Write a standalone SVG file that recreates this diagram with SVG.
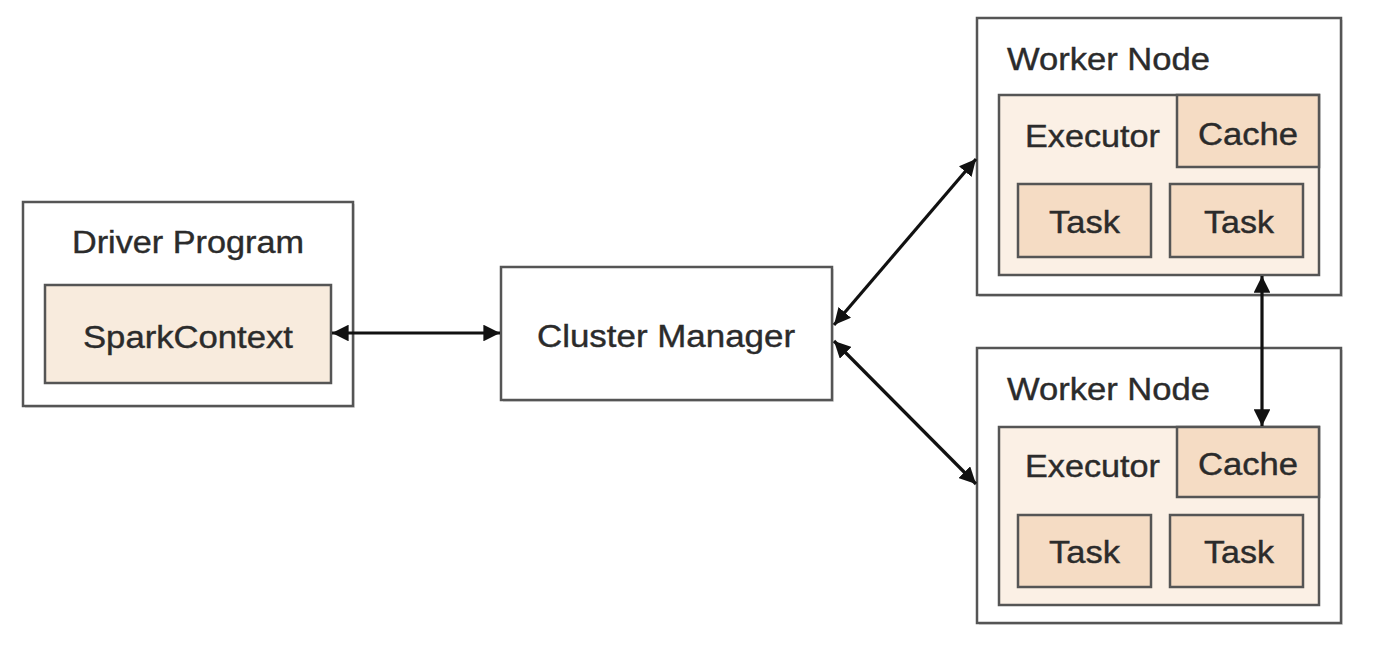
<svg xmlns="http://www.w3.org/2000/svg" width="1374" height="658" viewBox="0 0 1374 658">
<defs>
<style>
.outer{fill:#ffffff;stroke:#555555;stroke-width:2.5}
.shadow{fill:#000000;opacity:0.12}
.ctx{fill:#f8ebdd;stroke:#555555;stroke-width:2.5}
.exec{fill:#fbf0e5;stroke:#555555;stroke-width:2.5}
.part{fill:#f5dcc4;stroke:#555555;stroke-width:2.5}
.lbl{font-family:"Liberation Sans",Arial,Helvetica,sans-serif;font-size:31px;fill:#2b2b2b;stroke:#2b2b2b;stroke-width:0.4}
.conn{stroke:#111111;stroke-width:3.2;fill:none}
</style>
<marker id="ah" viewBox="0 0 10 10" refX="10" refY="5" markerWidth="5.2" markerHeight="5.2" orient="auto-start-reverse" markerUnits="strokeWidth">
<path d="M0,0 L10,5 L0,10 z" fill="#111111"/>
</marker>
</defs>
<rect width="1374" height="658" fill="#ffffff"/>

<g id="driver">
<rect class="shadow" x="25" y="204" width="330" height="204"/>
<rect class="outer" x="23" y="202" width="330" height="204"/>
<text class="lbl" x="72" y="253" textLength="232" lengthAdjust="spacingAndGlyphs">Driver Program</text>
<g id="sparkcontext">
<rect class="ctx" x="45" y="285" width="286" height="98"/>
<text class="lbl" x="83" y="348" textLength="210" lengthAdjust="spacingAndGlyphs">SparkContext</text>
</g>
</g>

<g id="cluster-manager">
<rect class="shadow" x="503" y="269" width="331" height="133"/>
<rect class="outer" x="501" y="267" width="331" height="133"/>
<text class="lbl" x="537" y="347" textLength="258" lengthAdjust="spacingAndGlyphs">Cluster Manager</text>
</g>

<g id="worker1">
<rect class="shadow" x="979" y="20" width="364" height="277"/>
<rect class="outer" x="977" y="18" width="364" height="277"/>
<text class="lbl" x="1007" y="70" textLength="203" lengthAdjust="spacingAndGlyphs">Worker Node</text>
<g id="executor1">
<rect class="exec" x="999" y="95" width="320" height="180"/>
<text class="lbl" x="1025" y="147" textLength="135" lengthAdjust="spacingAndGlyphs">Executor</text>
<rect class="part" x="1177" y="95" width="142" height="72"/>
<text class="lbl" x="1198" y="145" textLength="100" lengthAdjust="spacingAndGlyphs">Cache</text>
<rect class="part" x="1018" y="184" width="133" height="73"/>
<text class="lbl" x="1049" y="233" textLength="71" lengthAdjust="spacingAndGlyphs">Task</text>
<rect class="part" x="1170" y="184" width="133" height="73"/>
<text class="lbl" x="1204" y="233" textLength="70" lengthAdjust="spacingAndGlyphs">Task</text>
</g>
</g>

<g id="worker2">
<rect class="shadow" x="979" y="350" width="364" height="275"/>
<rect class="outer" x="977" y="348" width="364" height="275"/>
<text class="lbl" x="1007" y="400" textLength="203" lengthAdjust="spacingAndGlyphs">Worker Node</text>
<g id="executor2">
<rect class="exec" x="999" y="427" width="320" height="178"/>
<text class="lbl" x="1025" y="477" textLength="135" lengthAdjust="spacingAndGlyphs">Executor</text>
<rect class="part" x="1177" y="427" width="142" height="70"/>
<text class="lbl" x="1198" y="475" textLength="100" lengthAdjust="spacingAndGlyphs">Cache</text>
<rect class="part" x="1018" y="515" width="133" height="72"/>
<text class="lbl" x="1049" y="563" textLength="71" lengthAdjust="spacingAndGlyphs">Task</text>
<rect class="part" x="1170" y="515" width="133" height="72"/>
<text class="lbl" x="1204" y="563" textLength="70" lengthAdjust="spacingAndGlyphs">Task</text>
</g>
</g>

<g id="connectors">
<line class="conn" x1="332" y1="333" x2="500" y2="333" marker-start="url(#ah)" marker-end="url(#ah)"/>
<line class="conn" x1="834" y1="325" x2="976" y2="159" marker-start="url(#ah)" marker-end="url(#ah)"/>
<line class="conn" x1="834" y1="341" x2="976" y2="484" marker-start="url(#ah)" marker-end="url(#ah)"/>
<line class="conn" x1="1262" y1="276" x2="1262" y2="426" marker-start="url(#ah)" marker-end="url(#ah)"/>
</g>
</svg>
